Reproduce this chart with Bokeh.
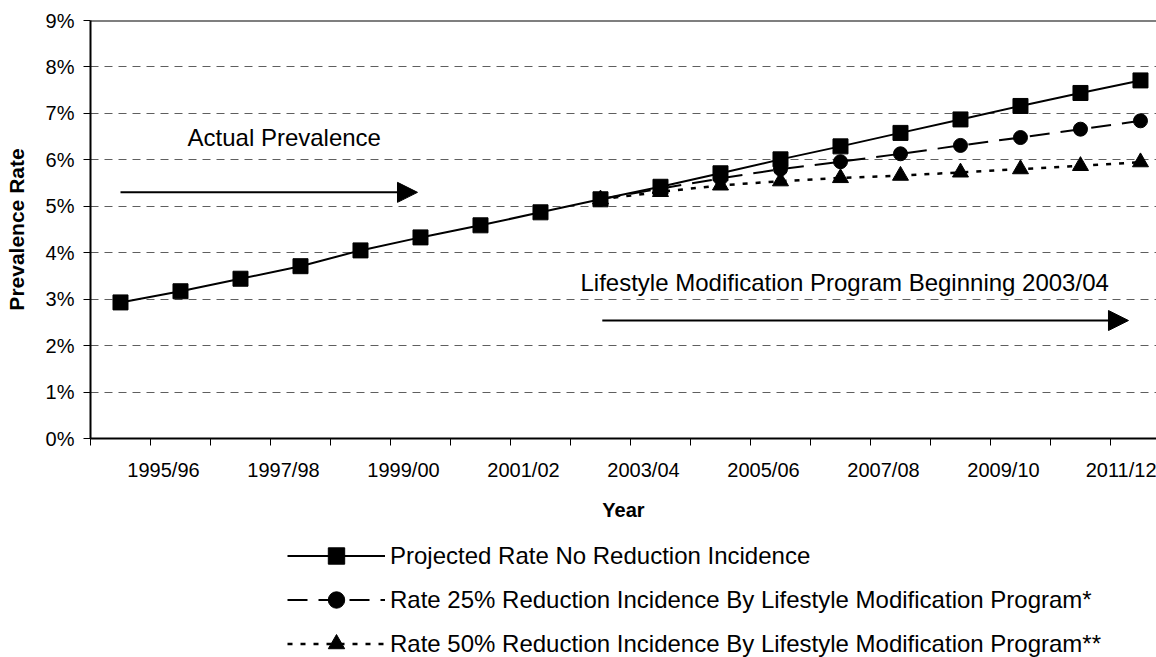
from bokeh.plotting import figure
from bokeh.layouts import column
from bokeh.models import (Range1d, FixedTicker, PrintfTickFormatter, Span,
                          Label, Arrow, NormalHead, Legend, LegendItem, ColumnDataSource)
from bokeh.embed import file_html
from bokeh.resources import INLINE

# ---------------- data ----------------
years = ["1994/95", "1995/96", "1996/97", "1997/98", "1998/99", "1999/00",
         "2000/01", "2001/02", "2002/03", "2003/04", "2004/05", "2005/06",
         "2006/07", "2007/08", "2008/09", "2009/10", "2010/11", "2011/12"]
no_reduction = [2.93, 3.17, 3.44, 3.71, 4.05, 4.33, 4.59, 4.87, 5.15,
                5.42, 5.71, 6.01, 6.29, 6.58, 6.87, 7.16, 7.44, 7.71]
# 25% / 50% reduction scenarios start in 2002/03
red25_years = years[8:]
red25 = [5.15, 5.38, 5.60, 5.80, 5.96, 6.13, 6.31, 6.48, 6.66, 6.84]
red50_years = years[8:]
red50 = [5.15, 5.31, 5.45, 5.54, 5.61, 5.66, 5.73, 5.80, 5.87, 5.95]
y_ticks = [0, 1, 2, 3, 4, 5, 6, 7, 8, 9]
label_years = years[1::2]

names = ["Projected Rate No Reduction Incidence",
         "Rate 25% Reduction Incidence By Lifestyle Modification Program*",
         "Rate 50% Reduction Incidence By Lifestyle Modification Program**"]

FONT = "Liberation Sans"
STYLES = [dict(dash="solid", width=2, marker="square", size=15),
          dict(dash="20 11", width=2, marker="circle", size=14),
          dict(dash="5 8", width=2.5, marker="triangle", size=16)]

xi = {y: i for i, y in enumerate(years)}

p = figure(width=1156, height=535, output_backend="svg", toolbar_location=None,
           x_range=Range1d(-0.5, 17.267), y_range=Range1d(0, 9),
           min_border_left=90, min_border_right=0, min_border_top=20,
           min_border_bottom=97)
p.outline_line_color = None
p.background_fill_color = "white"
p.border_fill_color = "white"

# grid
p.xgrid.visible = False
p.ygrid.ticker = FixedTicker(ticks=y_ticks)
p.ygrid.grid_line_color = "#5f5f5f"
p.ygrid.grid_line_dash = "8 6"
p.ygrid.grid_line_width = 1

# y axis
ya = p.yaxis[0]
ya.ticker = FixedTicker(ticks=y_ticks)
ya.formatter = PrintfTickFormatter(format="%d%%")
ya.major_label_text_font = FONT
ya.major_label_text_font_size = "20px"
ya.major_label_text_color = "black"
ya.major_tick_out = 7
ya.major_tick_in = 0
ya.minor_tick_out = 0
ya.minor_tick_in = 0
ya.axis_line_width = 2
ya.axis_line_color = "black"
ya.major_tick_line_color = "black"
ya.major_label_standoff = 9
ya.axis_label = "Prevalence Rate"
ya.axis_label_text_font = FONT
ya.axis_label_text_font_size = "21px"
ya.axis_label_text_font_style = "bold"
ya.axis_label_text_color = "black"
ya.axis_label_standoff = 15

# x axis: labels at major ticks, category boundaries as minor ticks
lab_pos = [xi[y] - 0.283 for y in label_years]
xa = p.xaxis[0]
xa.ticker = FixedTicker(ticks=lab_pos,
                        minor_ticks=[i - 0.5 for i in range(len(years) + 1)])
xa.major_label_overrides = {pos: y for pos, y in zip(lab_pos, label_years)}
xa.major_tick_line_color = None
xa.major_tick_out = 0
xa.major_tick_in = 0
xa.minor_tick_out = 7
xa.minor_tick_in = 0
xa.minor_tick_line_color = "black"
xa.minor_tick_line_width = 1
xa.axis_line_width = 2
xa.axis_line_color = "black"
xa.major_label_text_font = FONT
xa.major_label_text_font_size = "20px"
xa.major_label_text_color = "black"
xa.major_label_standoff = 13
xa.axis_label = "Year"
xa.axis_label_text_font = FONT
xa.axis_label_text_font_size = "20px"
xa.axis_label_text_font_style = "bold"
xa.axis_label_text_color = "black"
xa.axis_label_standoff = 15

# top border
p.add_layout(Span(location=9, dimension="width", line_color="black", line_width=2))

# series (drawn so that the no-reduction squares lie on top)
series = [(red50_years, red50, STYLES[2]), (red25_years, red25, STYLES[1]),
          (years, no_reduction, STYLES[0])]
for yrs, vals, st in series:
    src = ColumnDataSource(dict(x=[xi[y] for y in yrs], y=vals))
    p.line("x", "y", source=src, line_color="black", line_width=st["width"],
           line_dash=st["dash"])
    p.scatter("x", "y", source=src, marker=st["marker"], size=st["size"], color="black")

# annotations
p.add_layout(Label(x=1.117, y=6.48, text="Actual Prevalence", text_font=FONT,
                   text_font_size="24px", text_baseline="middle", text_color="black"))
p.add_layout(Label(x=7.667, y=3.36, text="Lifestyle Modification Program Beginning 2003/04",
                   text_font=FONT, text_font_size="24px", text_baseline="middle",
                   text_color="black"))
p.add_layout(Arrow(x_start=0.0, y_start=5.30, x_end=4.95, y_end=5.30, line_width=2,
                   end=NormalHead(size=20, fill_color="black", line_color="black")))
p.add_layout(Arrow(x_start=8.03, y_start=2.54, x_end=16.8, y_end=2.54, line_width=2,
                   end=NormalHead(size=20, fill_color="black", line_color="black")))

# legend figure below the chart (its proxy glyphs sit outside its visible range)
lf = figure(width=1156, height=122, output_backend="svg", toolbar_location=None,
            x_range=Range1d(0, 1), y_range=Range1d(0, 1),
            x_axis_type=None, y_axis_type=None,
            min_border_left=0, min_border_right=0, min_border_top=0, min_border_bottom=0)
lf.outline_line_color = None
lf.xgrid.visible = False
lf.ygrid.visible = False
items = []
for name, st in zip(names, STYLES):
    proxy = ColumnDataSource(dict(x=[-5, -4], y=[-5, -5]))
    lr = lf.line("x", "y", source=proxy, line_color="black", line_width=st["width"],
                 line_dash=st["dash"])
    mr = lf.scatter("x", "y", source=proxy, marker=st["marker"], size=st["size"] - 1,
                    color="black")
    items.append(LegendItem(label=name, renderers=[lr, mr]))
legend = Legend(items=items, location=(197, -7), orientation="vertical",
                glyph_width=98, glyph_height=41, label_height=41, spacing=3,
                padding=0, margin=0, label_standoff=5,
                label_text_font=FONT, label_text_font_size="24px",
                label_text_color="black", border_line_color=None,
                background_fill_alpha=0)
lf.add_layout(legend, "center")

open("out.html", "w").write(file_html(column(p, lf, spacing=0), INLINE))
